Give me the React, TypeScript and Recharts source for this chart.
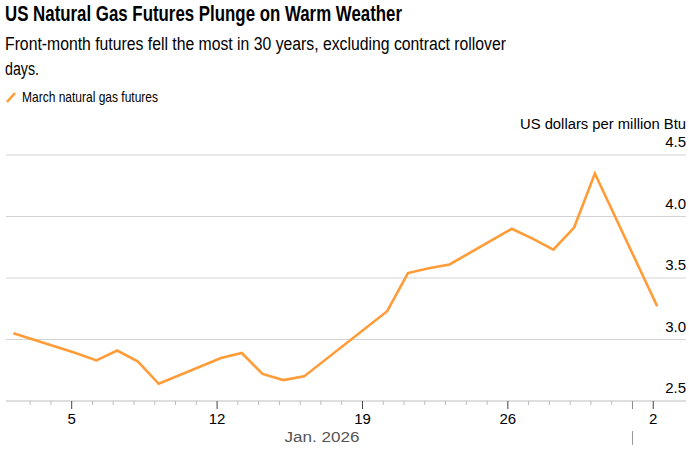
import { LineChart, Line, XAxis, YAxis, CartesianGrid } from "recharts"

// trading days as day-of-January (Feb 2 = 33); Jan 19 was a market holiday
const days = [2, 5, 6, 7, 8, 9, 12, 13, 14, 15, 16, 20, 21, 22, 23, 26, 27, 28, 29, 30, 33]
const prices = [
  3.05, 2.89, 2.83, 2.91, 2.82, 2.64, 2.85, 2.89, 2.72, 2.67, 2.7,
  3.23, 3.54, 3.58, 3.61, 3.9, 3.82, 3.73, 3.91, 4.35, 3.27,
]

const labelDays = [5, 12, 19, 26, 33]
const labelText = ["5", "12", "19", "26", "2"]
const monthStart = 32 // Feb 1
const tickDays = Array.from({ length: 31 }, (_, i) => i + 3)
const yTicks = [2.5, 3.0, 3.5, 4.0, 4.5]

const ORANGE = "#ff9c38"
const SANS = '"Liberation Sans", Arial, Helvetica, sans-serif'
const NARROW = '"Liberation Sans Narrow", "Liberation Sans", Arial, sans-serif'

// settlement points sit slightly right of the midnight day tick, as in the source
const chartData = days.map((d, i) => ({ x: d + 0.19, price: prices[i] }))

function DayTick({ x, y, payload }: any) {
  const d = payload.value
  const i = labelDays.indexOf(d)
  const major = i >= 0 || d === monthStart
  return (
    <g>
      <line
        x1={x}
        x2={x}
        y1={y}
        y2={y + (major ? 8 : 4)}
        stroke={i >= 0 ? "#444" : major ? "#888" : "#bbb"}
        strokeWidth={1}
      />
      {i >= 0 && (
        <text x={x} y={y + 23} textAnchor="middle" fontSize={15} fontFamily={SANS} fill="#000">
          {labelText[i]}
        </text>
      )}
      {d === monthStart && <line x1={x} x2={x} y1={y + 30} y2={y + 44} stroke="#999" strokeWidth={1} />}
    </g>
  )
}

function PriceTick({ y, payload }: any) {
  return (
    <text x={686} y={y - 8} textAnchor="end" fontSize={15} fontFamily={SANS} fill="#000">
      {Number(payload.value).toFixed(1)}
    </text>
  )
}

export default function App() {
  return (
    <div style={{ position: "absolute", left: 0, top: 0, width: 689, height: 457, background: "#fff" }}>
      <LineChart
        width={689}
        height={457}
        data={chartData}
        margin={{ top: 155, right: 0, bottom: 26, left: 6 }}
      >
        <CartesianGrid vertical={false} stroke="#d4d4d4" strokeWidth={1} />
        <XAxis
          dataKey="x"
          type="number"
          domain={[1.837, 34.577]}
          ticks={tickDays}
          interval={0}
          height={30}
          tickSize={0}
          tickMargin={0}
          tickLine={false}
          axisLine={{ stroke: "#d4d4d4", strokeWidth: 1 }}
          tick={DayTick}
        />
        <YAxis
          orientation="right"
          type="number"
          domain={[2.5, 4.5]}
          ticks={yTicks}
          interval={0}
          width={3}
          tickSize={0}
          tickMargin={0}
          tickLine={false}
          axisLine={false}
          tick={PriceTick}
        />
        <Line
          type="linear"
          dataKey="price"
          stroke={ORANGE}
          strokeWidth={2.6}
          dot={false}
          isAnimationActive={false}
        />
      </LineChart>

      <svg
        width={689}
        height={457}
        style={{ position: "absolute", left: 0, top: 0, pointerEvents: "none" }}
      >
        <text x={5} y={21} fontSize={22} fontWeight={700} fontFamily={NARROW} fill="#000" textLength={397} lengthAdjust="spacingAndGlyphs">
          US Natural Gas Futures Plunge on Warm Weather
        </text>
        <text x={5} y={50} fontSize={18} fontFamily={NARROW} fill="#000" textLength={501} lengthAdjust="spacingAndGlyphs">
          Front-month futures fell the most in 30 years, excluding contract rollover
        </text>
        <text x={5} y={74.5} fontSize={18} fontFamily={NARROW} fill="#000" textLength={34} lengthAdjust="spacingAndGlyphs">
          days.
        </text>
        <line x1={7} y1={102} x2={15} y2={93} stroke={ORANGE} strokeWidth={2.6} />
        <text x={22} y={102} fontSize={15} fontFamily={NARROW} fill="#000" textLength={136} lengthAdjust="spacingAndGlyphs">
          March natural gas futures
        </text>
        <text x={686} y={129} textAnchor="end" fontSize={14} fontFamily={SANS} fill="#000" textLength={166} lengthAdjust="spacingAndGlyphs">
          US dollars per million Btu
        </text>
        <text x={322} y={442} textAnchor="middle" fontSize={14} fontFamily={SANS} fill="#555" textLength={75} lengthAdjust="spacingAndGlyphs">
          Jan. 2026
        </text>
      </svg>
    </div>
  )
}
